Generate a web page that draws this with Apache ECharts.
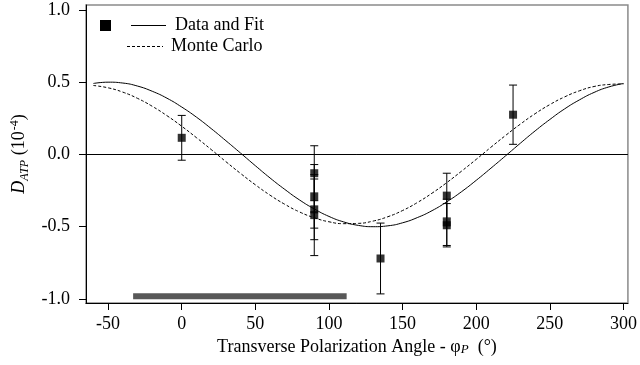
<!DOCTYPE html>
<html>
<head>
<meta charset="utf-8">
<script src="https://cdn.jsdelivr.net/npm/echarts@6/dist/echarts.min.js"></script>
<style>html,body{margin:0;padding:0;background:#fff;}#c{width:640px;height:365px;}</style>
</head>
<body>
<div id="c"></div>
<script>
// ---- data ----
const xTicks = [-50, 0, 50, 100, 150, 200, 250, 300];
const yTicks = [-1.0, -0.5, 0.0, 0.5, 1.0];

const pointX   = [0, 90, 90, 90, 90, 135, 180, 180, 180, 225];
const pointY   = [0.115, -0.13, -0.29, -0.38, -0.42, -0.72, -0.285, -0.47, -0.49, 0.275];
const pointErr = [0.155, 0.19, 0.22, 0.21, 0.28, 0.245, 0.155, 0.16, 0.15, 0.205];

const curveX = [-60,-50,-40,-30,-20,-10,0,10,20,30,40,50,60,70,80,90,100,110,120,130,140,150,160,170,180,190,200,210,220,230,240,250,260,270,280,290,300];
const fitY = [0.491,0.500,0.494,0.473,0.437,0.389,0.328,0.258,0.179,0.095,0.009,-0.078,-0.163,-0.242,-0.315,-0.377,-0.429,-0.467,-0.491,-0.500,-0.494,-0.473,-0.437,-0.389,-0.328,-0.258,-0.179,-0.095,-0.009,0.078,0.163,0.242,0.315,0.377,0.429,0.467,0.491];
const mcY  = [0.477,0.461,0.431,0.388,0.333,0.268,0.195,0.116,0.034,-0.050,-0.132,-0.210,-0.282,-0.345,-0.398,-0.438,-0.466,-0.479,-0.477,-0.461,-0.431,-0.388,-0.333,-0.268,-0.195,-0.116,-0.034,0.050,0.132,0.210,0.282,0.345,0.398,0.440,0.470,0.484,0.488];

const bandX = [-33, 112];
const bandY = [-0.981, -0.981];

const xMin = -65, xMax = 303, yMin = -1.028, yMax = 1.034;

// ---- build ----
const font = 'Liberation Serif';
const zip = (a, b) => a.map((v, i) => [v, b[i]]);
const errData = pointX.map((x, i) => [x, pointY[i] - pointErr[i], pointY[i] + pointErr[i]]);

const chart = echarts.init(document.getElementById('c'), null, {renderer: 'canvas'});
chart.setOption({
  animation: false,
  backgroundColor: '#fff',
  grid: {left: 86, right: 9, top: 5, bottom: 62, show: true, borderColor: '#8a8a8a', borderWidth: 1.5, backgroundColor: 'transparent'},
  xAxis: {
    type: 'value', min: xMin, max: xMax,
    name: '{t|Transverse Polarization Angle - φ}{s|P}{t|  (°)}',
    nameLocation: 'middle', nameGap: 33,
    nameTextStyle: {rich: {
      t: {fontFamily: font, fontSize: 18, color: '#000'},
      s: {fontFamily: font, fontSize: 13, fontStyle: 'italic', color: '#000', verticalAlign: 'bottom', padding: [6, 0, 0, 0]}
    }},
    axisLine: {show: true, onZero: false, lineStyle: {color: '#000', width: 1}},
    axisTick: {show: true, length: 7, customValues: xTicks, lineStyle: {color: '#000'}},
    axisLabel: {customValues: xTicks, margin: 12, fontFamily: font, fontSize: 18, color: '#000', formatter: v => String(v)},
    splitLine: {show: false}
  },
  yAxis: {
    type: 'value', min: yMin, max: yMax,
    name: '{d|D}{s|ATP}{t| (10}{p|-4}{t|)}',
    nameLocation: 'middle', nameGap: 55, nameRotate: 90,
    nameTextStyle: {rich: {
      d: {fontFamily: font, fontSize: 18, fontStyle: 'italic', color: '#000'},
      t: {fontFamily: font, fontSize: 18, color: '#000'},
      s: {fontFamily: font, fontSize: 12, fontStyle: 'italic', color: '#000', verticalAlign: 'bottom', padding: [8, 0, 0, 0]},
      p: {fontFamily: font, fontSize: 12, color: '#000', verticalAlign: 'top', padding: [0, 0, 10, 1]}
    }},
    axisLine: {show: true, onZero: false, lineStyle: {color: '#000', width: 1}},
    axisTick: {show: true, length: 7, customValues: yTicks, lineStyle: {color: '#000'}},
    axisLabel: {customValues: yTicks, margin: 16, fontFamily: font, fontSize: 18, color: '#000', formatter: v => v.toFixed(1)},
    splitLine: {show: false}
  },
  series: [
    {
      type: 'line', data: zip(curveX, mcY), showSymbol: false, smooth: true, silent: true,
      lineStyle: {color: '#000', width: 1, type: [3, 2]},
      markLine: {silent: true, symbol: 'none', label: {show: false}, lineStyle: {color: '#000', width: 1, type: 'solid'}, data: [{yAxis: 0}]}
    },
    {
      type: 'line', data: zip(curveX, fitY), showSymbol: false, smooth: true, silent: true,
      lineStyle: {color: '#000', width: 1}
    },
    {
      type: 'line', data: zip(bandX, bandY), showSymbol: false, silent: true,
      lineStyle: {color: '#585858', width: 6, cap: 'butt'}
    },
    {
      type: 'custom', data: errData, silent: true,
      renderItem: function (params, api) {
        const x = api.value(0);
        const lo = api.coord([x, api.value(1)]);
        const hi = api.coord([x, api.value(2)]);
        const w = 4;
        const st = {stroke: '#000', lineWidth: 1};
        return {type: 'group', children: [
          {type: 'line', shape: {x1: lo[0], y1: lo[1], x2: hi[0], y2: hi[1]}, style: st},
          {type: 'line', shape: {x1: lo[0] - w, y1: lo[1], x2: lo[0] + w, y2: lo[1]}, style: st},
          {type: 'line', shape: {x1: hi[0] - w, y1: hi[1], x2: hi[0] + w, y2: hi[1]}, style: st}
        ]};
      }
    },
    {
      type: 'scatter', data: zip(pointX, pointY), symbol: 'rect', symbolSize: 8, silent: true,
      itemStyle: {color: '#000'}, z: 5
    }
  ],
  graphic: [
    {type: 'rect', shape: {x: 100, y: 20, width: 11, height: 11}, style: {fill: '#000'}},
    {type: 'line', shape: {x1: 131, y1: 25.5, x2: 166, y2: 25.5}, style: {stroke: '#000', lineWidth: 1}},
    {type: 'text', x: 175, y: 25.5, style: {text: 'Data and Fit', font: '18px "Liberation Serif"', fill: '#000', verticalAlign: 'middle'}},
    {type: 'line', shape: {x1: 127, y1: 46.5, x2: 163, y2: 46.5}, style: {stroke: '#000', lineWidth: 1, lineDash: [3, 2]}},
    {type: 'text', x: 171, y: 46.5, style: {text: 'Monte Carlo', font: '18px "Liberation Serif"', fill: '#000', verticalAlign: 'middle'}}
  ]
});
</script>
</body>
</html>
